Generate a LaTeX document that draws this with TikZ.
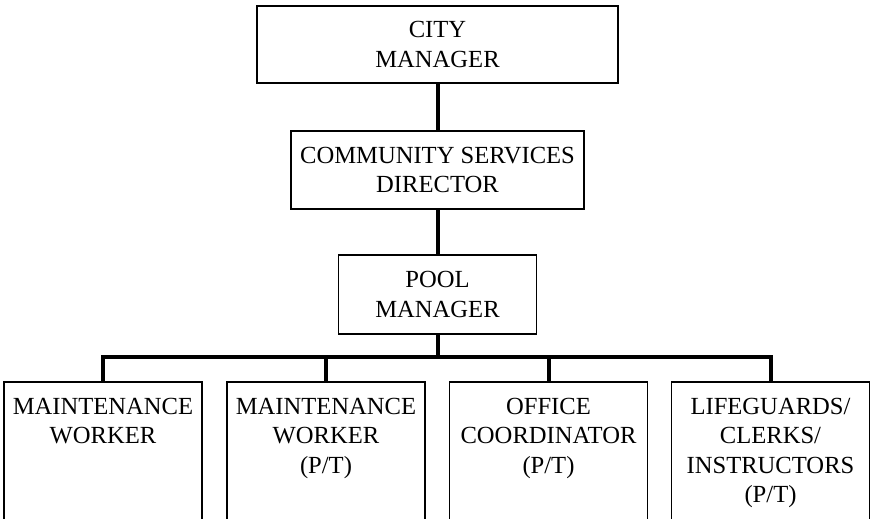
\documentclass[tikz,border=0pt]{standalone}
\usepackage{fontspec}
\setmainfont{Liberation Serif}
\begin{document}
\begin{tikzpicture}[x=1pt,y=-1pt,
  every node/.style={font=\fontsize{24.6}{29.5}\selectfont, align=center, inner sep=0pt},
  topbox/.style={draw, line width=1.7pt},
  lowbox/.style={draw, line width=1.7pt, anchor=north, minimum width=198pt, minimum height=170pt},
  lowtext/.style={anchor=north, yshift=-17pt},
  conn/.style={line width=4pt}]
\useasboundingbox (0,0) rectangle (871,519);
\clip (0,0) rectangle (871,519);
\node[topbox, minimum width=361pt, minimum height=77pt] (city) at (437.5,44.5) {CITY\\MANAGER};
\node[topbox, minimum width=293pt, minimum height=78pt] (csd) at (437.5,170) {COMMUNITY SERVICES\\DIRECTOR};
\node[topbox, minimum width=198pt, minimum height=79pt] (pool) at (437.5,294.5) {POOL\\MANAGER};
\coordinate (bus) at (437.5,357);
\node[lowbox] (m1) at (103,381) {};
\node[lowbox] (m2) at (326,381) {};
\node[lowbox] (m3) at (548.5,381) {};
\node[lowbox] (m4) at (770.5,381) {};
\node[lowtext] (t1) at (m1.north) {MAINTENANCE\\WORKER};
\node[lowtext] (t2) at (m2.north) {MAINTENANCE\\WORKER\\(P/T)};
\node[lowtext] (t3) at (m3.north) {OFFICE\\COORDINATOR\\(P/T)};
\node[lowtext] (t4) at (m4.north) {LIFEGUARDS/\\CLERKS/\\INSTRUCTORS\\(P/T)};
\draw[conn] (city) -- (csd);
\draw[conn] (csd) -- (pool);
\draw[conn] (pool) -- (bus);
\draw[conn] (m1.north) |- (bus);
\draw[conn] (m2.north) |- (bus);
\draw[conn] (m3.north) |- (bus);
\draw[conn] (m4.north) |- (bus);
\end{tikzpicture}
\end{document}
